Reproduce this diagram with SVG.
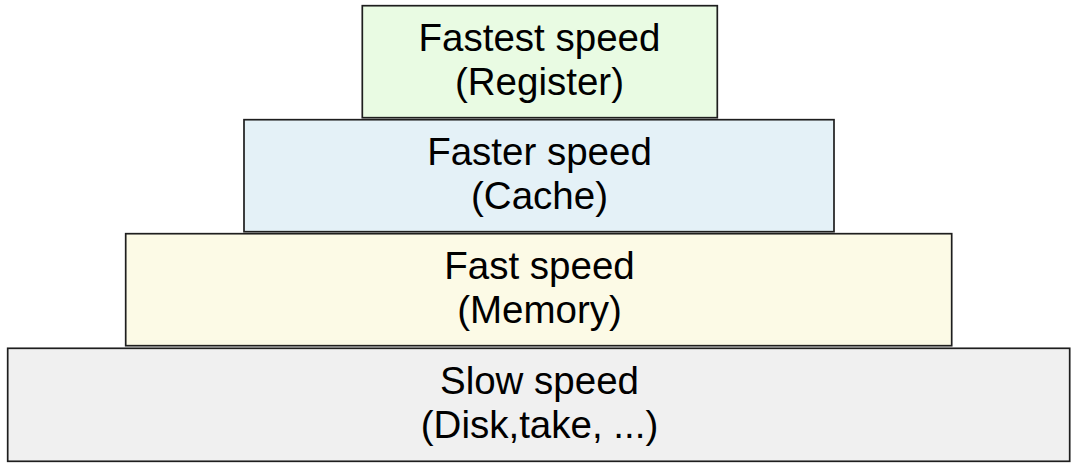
<svg xmlns="http://www.w3.org/2000/svg" width="1076" height="471" viewBox="0 0 1076 471">
<style>
.box{stroke:#1e1e1e;stroke-width:1.7}
.t{font-family:"Liberation Sans",Arial,sans-serif;font-size:38.5px;fill:#000;text-anchor:middle}
</style>
<rect width="1076" height="471" fill="#fff"/>
<g id="register">
<rect class="box" x="362.3" y="5.7" width="355" height="112" fill="#e9fbe3"/>
<text class="t" x="539.5" y="51">Fastest speed</text>
<text class="t" x="539.5" y="95">(Register)</text>
</g>
<g id="cache">
<rect class="box" x="244" y="119.7" width="590" height="112" fill="#e4f1f7"/>
<text class="t" x="539.5" y="165">Faster speed</text>
<text class="t" x="539.5" y="209">(Cache)</text>
</g>
<g id="memory">
<rect class="box" x="125.7" y="233.7" width="826" height="112" fill="#fcfae6"/>
<text class="t" x="539.5" y="279">Fast speed</text>
<text class="t" x="539.5" y="323">(Memory)</text>
</g>
<g id="disk">
<rect class="box" x="7.7" y="348.3" width="1062" height="113" fill="#f0f0f0"/>
<text class="t" x="539.5" y="394">Slow speed</text>
<text class="t" x="539.5" y="438">(Disk,take, ...)</text>
</g>
<g id="connectors"/>
</svg>
